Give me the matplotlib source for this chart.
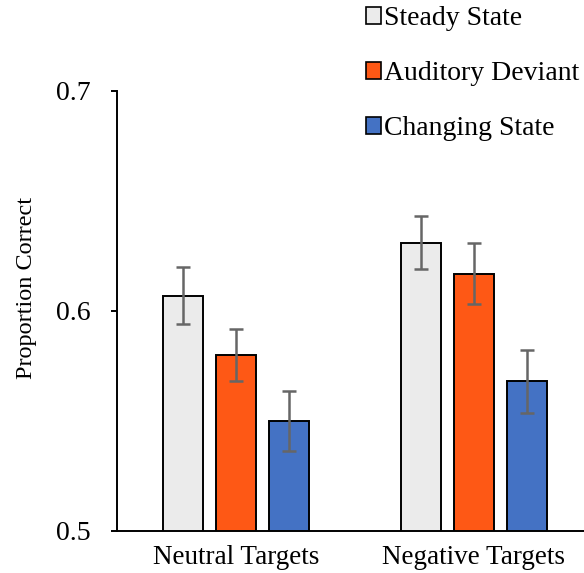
import matplotlib
matplotlib.use("Agg")
import matplotlib.pyplot as plt
from matplotlib.patches import Patch
import numpy as np

categories = ["Neutral Targets", "Negative Targets"]
series_names = ["Steady State", "Auditory Deviant", "Changing State"]
steady = [0.607, 0.631]
auditory = [0.580, 0.617]
changing = [0.550, 0.568]
steady_err = [0.013, 0.012]
auditory_err = [0.012, 0.014]
changing_err = [0.0135, 0.0145]
yticks = [0.5, 0.6, 0.7]

colors = ["#EBEBEB", "#FE5815", "#4472C4"]

plt.rcParams['font.family'] = ['Liberation Serif', 'DejaVu Serif']

fig = plt.figure(figsize=(5.84, 5.73), dpi=100)
W, H = 584, 573
left_px, right_px, top_px, bot_px = 117, 593, 91, 531
ax = fig.add_axes([left_px / W, 1 - bot_px / H, (right_px - left_px) / W, (bot_px - top_px) / H])

x = np.arange(len(categories))
width = 0.168
offset = 0.223
vals = [steady, auditory, changing]
errs = [steady_err, auditory_err, changing_err]
for i, (v, e, c) in enumerate(zip(vals, errs, colors)):
    ax.bar(x + (i - 1) * offset, v, width, color=c, edgecolor="black", linewidth=1.4, zorder=2)
    ax.errorbar(x + (i - 1) * offset, v, yerr=e, fmt="none", ecolor="#666666",
                elinewidth=1.8, capsize=5, capthick=1.8, zorder=3)

ax.set_xlim(-0.5, 1.5)
ax.set_ylim(0.5, 0.7)
ax.set_yticks(yticks)
ax.set_yticklabels([f"{t:.1f}" for t in yticks], fontsize=20)
ax.set_xticks(x)
ax.set_xticklabels(categories, fontsize=19.5)
ax.tick_params(axis="x", length=0, pad=10)
ax.tick_params(axis="y", length=4.3, width=1.4, pad=15)
for s in ["top", "right"]:
    ax.spines[s].set_visible(False)
ax.spines["left"].set_linewidth(1.4)
ax.spines["bottom"].set_linewidth(1.4)

fig.text(27 / W, 1 - 288 / H, "Proportion Correct", rotation=90, fontsize=17.5,
         ha="center", va="center")

handles = [Patch(facecolor=c, edgecolor="black", linewidth=1.2) for c in colors]
fig.legend(handles, series_names, loc="upper left", bbox_to_anchor=(366 / W, 1 - 6 / H),
           frameon=False, fontsize=20, handlelength=0.55, handleheight=0.55,
           handletextpad=0.1, labelspacing=1.08, borderpad=0, borderaxespad=0)

fig.savefig("out.png", dpi=100)
